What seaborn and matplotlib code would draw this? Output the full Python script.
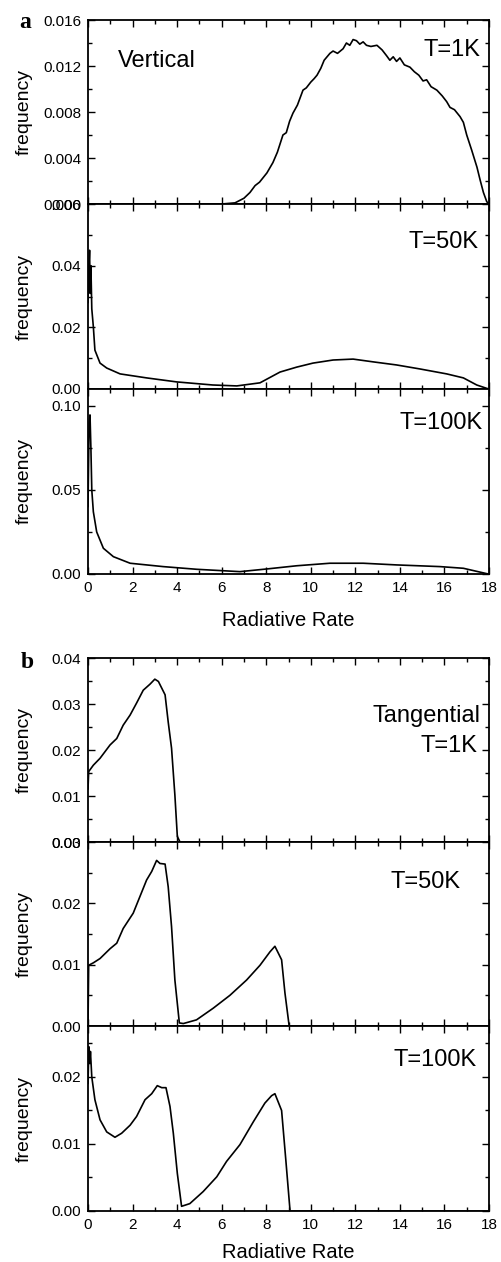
import numpy as np
import pandas as pd
import seaborn as sns
import matplotlib.pyplot as plt
from matplotlib.ticker import MultipleLocator, FormatStrFormatter

# -----------------------------------------------------------------------------
# DATOS
# -----------------------------------------------------------------------------

# Panel a - Vertical
vert_1k_x = [0, 6.0, 6.6, 7.0, 7.27, 7.5, 7.7, 8.03, 8.3, 8.5, 8.75, 8.9, 9.05, 9.2, 9.4,
             9.65, 9.8, 10.0, 10.15, 10.28, 10.45, 10.6, 10.86, 11.0, 11.2, 11.45, 11.6,
             11.75, 11.9, 12.05, 12.2, 12.35, 12.5, 12.7, 12.97, 13.2, 13.4, 13.55, 13.7,
             13.85, 14.0, 14.2, 14.45, 14.65, 14.85, 15.04, 15.2, 15.4, 15.66, 15.9, 16.1,
             16.25, 16.45, 16.7, 16.85, 17.0, 17.22, 17.46, 17.6, 17.75, 17.9, 18.0]
vert_1k_y = [0, 0, 0.0001, 0.0005, 0.0010, 0.0016, 0.0019, 0.0027, 0.0036, 0.0045, 0.0060,
             0.0062, 0.0072, 0.0079, 0.0086, 0.0099, 0.0101, 0.0106, 0.0109, 0.0112, 0.0118,
             0.0125, 0.0131, 0.0133, 0.0131, 0.0135, 0.0140, 0.0138, 0.0143, 0.0142, 0.0139,
             0.0141, 0.0138, 0.0137, 0.0138, 0.0134, 0.0129, 0.0125, 0.0128, 0.0124, 0.0127,
             0.0121, 0.0119, 0.0115, 0.0112, 0.0107, 0.0108, 0.0102, 0.0099, 0.0094, 0.0089,
             0.0084, 0.0082, 0.0076, 0.0071, 0.0060, 0.0047, 0.0032, 0.0021, 0.0010, 0.0002, 0]

vert_50k_x = [0, 0.03, 0.07, 0.1, 0.13, 0.17, 0.24, 0.31, 0.54, 0.84, 1.44, 2.63, 3.98, 5.6,
              6.68, 7.72, 8.62, 9.37, 10.1, 11.0, 11.9, 12.8, 13.85, 14.9, 16.1, 16.85,
              17.45, 17.9, 18.0]
vert_50k_y = [0.028, 0.038, 0.045, 0.031, 0.040, 0.026, 0.0202, 0.0126, 0.0084, 0.0068,
              0.0049, 0.0036, 0.0023, 0.0013, 0.0010, 0.0020, 0.0055, 0.0071, 0.0084,
              0.0094, 0.0097, 0.0088, 0.0078, 0.0065, 0.0049, 0.0036, 0.0013, 0.0002, 0]

vert_100k_x = [0, 0.05, 0.09, 0.13, 0.17, 0.24, 0.39, 0.69, 1.14, 1.89, 3.37, 4.88,
               6.82, 8.03, 9.37, 10.86, 12.35, 13.85, 15.8, 16.85, 17.9, 18.0]
vert_100k_y = [0.04, 0.09, 0.0946, 0.075, 0.05, 0.037, 0.025, 0.0153, 0.0103, 0.0064,
               0.0044, 0.0028, 0.0014, 0.0030, 0.0049, 0.0064, 0.0064, 0.0054, 0.0044,
               0.0034, 0.0002, 0]

# Panel b - Tangential
tang_1k_x = [0, 0.03, 0.24, 0.54, 0.99, 1.29, 1.58, 1.89, 2.18, 2.48, 2.78, 3.0, 3.16, 3.46,
             3.6, 3.75, 3.9, 4.01, 4.13, 18.0]
tang_1k_y = [0.0115, 0.0153, 0.0167, 0.0182, 0.0211, 0.0225, 0.0254, 0.0276, 0.0302, 0.0330,
             0.0343, 0.0354, 0.0349, 0.0320, 0.0261, 0.0204, 0.0102, 0.0012, 0, 0]

tang_50k_x = [0, 0.03, 0.24, 0.54, 0.99, 1.29, 1.58, 2.03, 2.33, 2.63, 2.86, 3.08, 3.23, 3.46,
              3.6, 3.75, 3.9, 4.1, 4.28, 4.87, 5.62, 6.37, 7.12, 7.72, 8.17, 8.39, 8.69,
              8.84, 9.03, 18.0]
tang_50k_y = [0, 0.0099, 0.0103, 0.0110, 0.0126, 0.0135, 0.0159, 0.0184, 0.0211, 0.0238,
              0.0252, 0.0270, 0.0265, 0.0264, 0.0227, 0.0162, 0.0075, 0.0005, 0.0004, 0.0010,
              0.0029, 0.0050, 0.0075, 0.0099, 0.0121, 0.0130, 0.0108, 0.0054, 0, 0]

tang_100k_x = [0, 0.04, 0.08, 0.11, 0.17, 0.31, 0.54, 0.84, 1.21, 1.51, 1.89, 2.18, 2.56,
               2.86, 3.11, 3.31, 3.5, 3.68, 3.83, 4.01, 4.2, 4.57, 5.17, 5.78, 6.22, 6.82,
               7.42, 7.94, 8.24, 8.39, 8.69, 8.88, 9.07, 18.0]
tang_100k_y = [0.019, 0.0245, 0.022, 0.0238, 0.0200, 0.0166, 0.0136, 0.0118, 0.0110, 0.0116,
               0.0128, 0.0141, 0.0166, 0.0175, 0.0187, 0.0184, 0.0184, 0.0156, 0.0116,
               0.0056, 0.0007, 0.0011, 0.0029, 0.0051, 0.0074, 0.0099, 0.0133, 0.0161,
               0.0172, 0.0175, 0.0150, 0.0076, 0, 0]

x_ticks = list(range(0, 19, 2))

# -----------------------------------------------------------------------------
# ESTILO
# -----------------------------------------------------------------------------
sns.set_theme(style="ticks")
plt.rcParams["font.family"] = ["Liberation Sans", "DejaVu Sans"]
plt.rcParams["text.color"] = "black"
plt.rcParams["axes.labelcolor"] = "black"

W, H = 501, 1262
fig = plt.figure(figsize=(W / 100, H / 100), dpi=100)

LEFT, RIGHT = 88, 489
TXT = 17


def make_ax(top, bottom):
    return fig.add_axes([LEFT / W, 1 - bottom / H, (RIGHT - LEFT) / W, (bottom - top) / H])


def style_ax(ax, ymax, major, minor, fmt, show_x):
    ax.set_xlim(0, 18)
    ax.set_ylim(0, ymax)
    ax.xaxis.set_major_locator(MultipleLocator(2))
    ax.xaxis.set_minor_locator(MultipleLocator(1))
    ax.yaxis.set_major_locator(MultipleLocator(major))
    ax.yaxis.set_minor_locator(MultipleLocator(minor))
    ax.yaxis.set_major_formatter(FormatStrFormatter(fmt))
    ax.tick_params(which="both", direction="in", top=True, right=True,
                   colors="black", labelsize=11, width=1.0, pad=5)
    ax.tick_params(which="major", length=5)
    ax.tick_params(which="minor", length=3)
    ax.tick_params(axis="x", labelbottom=show_x)
    for s in ax.spines.values():
        s.set_linewidth(1.3)
        s.set_color("black")
    ax.set_ylabel("frequency", fontsize=14)
    ax.yaxis.set_label_coords(-0.137, 0.5)
    ax.set_xlabel("")


def draw(ax, xs, ys):
    df = pd.DataFrame({"rate": xs, "freq": ys})
    sns.lineplot(data=df, x="rate", y="freq", ax=ax, color="black", lw=1.2,
                 sort=False, estimator=None)


# -----------------------------------------------------------------------------
# PANEL a
# -----------------------------------------------------------------------------
a1 = make_ax(20, 204)
draw(a1, vert_1k_x, vert_1k_y)
style_ax(a1, 0.016, 0.004, 0.002, "%.3f", False)
a1.text(0.075, 0.777, "Vertical", transform=a1.transAxes, fontsize=TXT, va="center")
a1.text(0.978, 0.837, "T=1K", transform=a1.transAxes, fontsize=TXT, va="center", ha="right")

a2 = make_ax(204, 389)
draw(a2, vert_50k_x, vert_50k_y)
style_ax(a2, 0.06, 0.02, 0.01, "%.2f", False)
a2.text(0.973, 0.795, "T=50K", transform=a2.transAxes, fontsize=TXT, va="center", ha="right")

a3 = make_ax(389, 574)
draw(a3, vert_100k_x, vert_100k_y)
style_ax(a3, 0.11, 0.05, 0.025, "%.2f", True)
a3.text(0.983, 0.816, "T=100K", transform=a3.transAxes, fontsize=TXT, va="center", ha="right")
a3.set_xticks(x_ticks)
a3.set_xlabel("Radiative Rate", fontsize=14.5)
a3.xaxis.set_label_coords(0.5, -0.2)

# -----------------------------------------------------------------------------
# PANEL b
# -----------------------------------------------------------------------------
b1 = make_ax(658, 842)
draw(b1, tang_1k_x, tang_1k_y)
style_ax(b1, 0.04, 0.01, 0.005, "%.2f", False)
b1.text(0.978, 0.685, "Tangential", transform=b1.transAxes, fontsize=TXT, va="center", ha="right")
b1.text(0.970, 0.522, "T=1K", transform=b1.transAxes, fontsize=TXT, va="center", ha="right")

b2 = make_ax(842, 1026)
draw(b2, tang_50k_x, tang_50k_y)
style_ax(b2, 0.03, 0.01, 0.005, "%.2f", False)
b2.text(0.928, 0.78, "T=50K", transform=b2.transAxes, fontsize=TXT, va="center", ha="right")

b3 = make_ax(1026, 1211)
draw(b3, tang_100k_x, tang_100k_y)
style_ax(b3, 0.0276, 0.01, 0.005, "%.2f", True)
b3.text(0.97, 0.816, "T=100K", transform=b3.transAxes, fontsize=TXT, va="center", ha="right")
b3.set_xticks(x_ticks)
b3.set_xlabel("Radiative Rate", fontsize=14.5)
b3.xaxis.set_label_coords(0.5, -0.175)

# Letras de panel
fig.text(25 / W, 1 - 22 / H, "a", fontsize=17, fontweight="bold",
         family="Liberation Serif", ha="center", va="center")
fig.text(27 / W, 1 - 663 / H, "b", fontsize=17, fontweight="bold",
         family="Liberation Serif", ha="center", va="center")

fig.savefig("out.png", dpi=100)
